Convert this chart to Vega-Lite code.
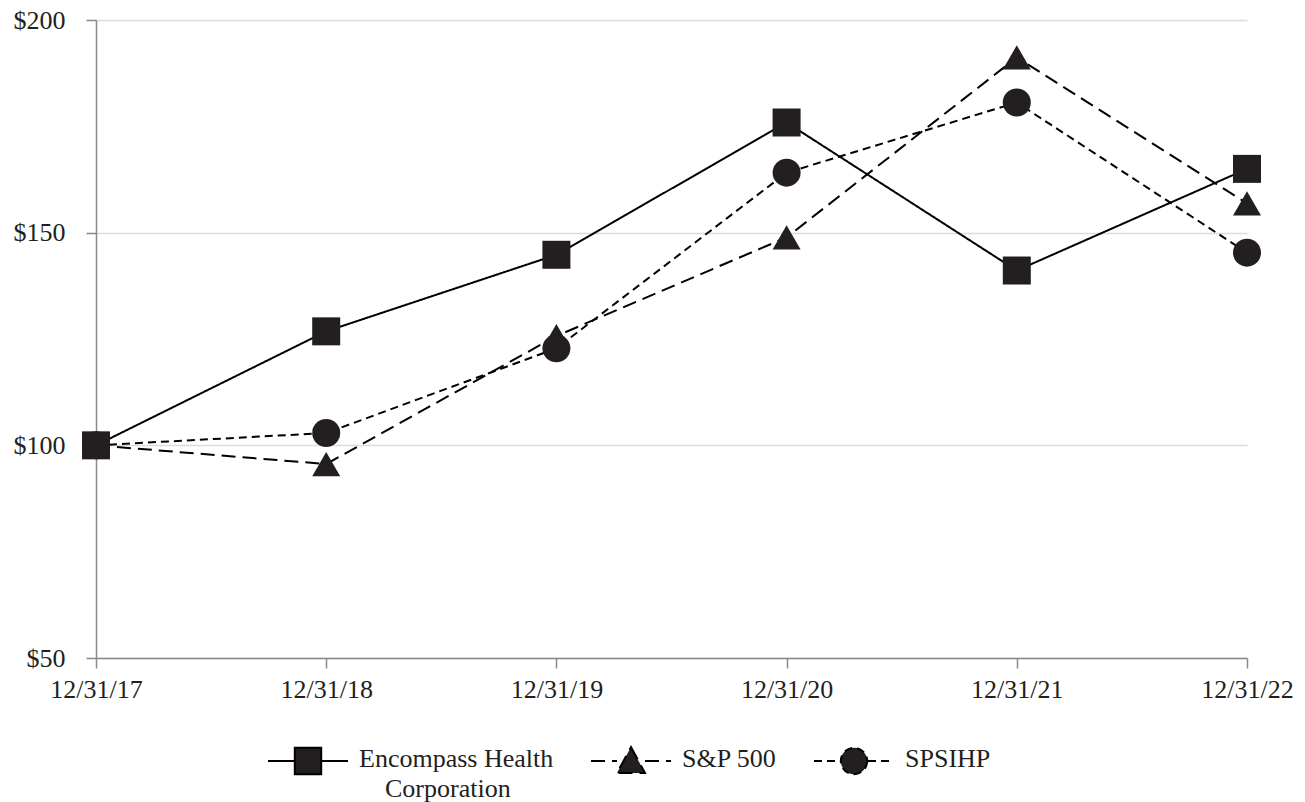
{
  "$schema": "https://vega.github.io/schema/vega-lite/v6.json",
  "width": 1151,
  "height": 638,
  "autosize": "none",
  "padding": {"left": 96, "top": 20, "right": 58, "bottom": 144},
  "background": "white",
  "config": {
    "view": {"stroke": null},
    "font": "Liberation Serif",
    "axis": {
      "domainColor": "#898989",
      "domainWidth": 1.5,
      "tickColor": "#898989",
      "tickWidth": 1.5,
      "tickSize": 10,
      "gridColor": "#dcdcdc",
      "gridWidth": 1.5,
      "labelFont": "Liberation Serif",
      "labelFontSize": 26,
      "labelColor": "#231f20",
      "title": null
    },
    "legend": {
      "orient": "none",
      "legendX": 171,
      "legendY": 700,
      "direction": "horizontal",
      "padding": 0,
      "symbolSize": 6400,
      "symbolStrokeWidth": 2,
      "symbolStrokeColor": "black",
      "symbolFillColor": "#231f20",
      "labelOffset": 10,
      "columnPadding": 33,
      "labelFontSize": 26,
      "labelFont": "Liberation Serif",
      "labelColor": "#231f20",
      "labelLimit": 0
    }
  },
  "data": {
    "values": [
      {"series": "Encompass Health Corporation", "date": "12/31/17", "value": 100},
      {"series": "Encompass Health Corporation", "date": "12/31/18", "value": 126.8},
      {"series": "Encompass Health Corporation", "date": "12/31/19", "value": 144.8},
      {"series": "Encompass Health Corporation", "date": "12/31/20", "value": 175.9},
      {"series": "Encompass Health Corporation", "date": "12/31/21", "value": 141.1},
      {"series": "Encompass Health Corporation", "date": "12/31/22", "value": 165.0},
      {"series": "S&P 500", "date": "12/31/17", "value": 100},
      {"series": "S&P 500", "date": "12/31/18", "value": 95.6},
      {"series": "S&P 500", "date": "12/31/19", "value": 125.7},
      {"series": "S&P 500", "date": "12/31/20", "value": 148.9},
      {"series": "S&P 500", "date": "12/31/21", "value": 191.2},
      {"series": "S&P 500", "date": "12/31/22", "value": 156.9},
      {"series": "SPSIHP", "date": "12/31/17", "value": 100},
      {"series": "SPSIHP", "date": "12/31/18", "value": 102.9},
      {"series": "SPSIHP", "date": "12/31/19", "value": 122.8},
      {"series": "SPSIHP", "date": "12/31/20", "value": 164.1},
      {"series": "SPSIHP", "date": "12/31/21", "value": 180.6},
      {"series": "SPSIHP", "date": "12/31/22", "value": 145.3}
    ]
  },
  "encoding": {
    "x": {
      "field": "date",
      "type": "ordinal",
      "scale": {"type": "point", "padding": 0, "domain": ["12/31/17", "12/31/18", "12/31/19", "12/31/20", "12/31/21", "12/31/22"]},
      "axis": {"labelAngle": 0, "grid": false, "labelPadding": 8}
    },
    "y": {
      "field": "value",
      "type": "quantitative",
      "scale": {"domain": [50, 200], "nice": false, "zero": false},
      "axis": {"values": [50, 100, 150, 200], "labelExpr": "'$' + datum.value", "grid": true, "labelPadding": 21}
    }
  },
  "layer": [
    {
      "mark": {"type": "line", "color": "black", "strokeWidth": 2},
      "encoding": {
        "strokeDash": {
          "field": "series",
          "type": "nominal",
          "title": null,
          "scale": {"domain": ["Encompass Health Corporation", "S&P 500", "SPSIHP"], "range": [[1, 0], [14, 7], [8, 5]]},
          "legend": {
            "labelBaseline": "alphabetic",
            "labelExpr": "datum.label == 'Encompass Health Corporation' ? ['Encompass Health', '\u200b\u2002\u2002Corporation'] : [datum.label, '\u200b']",
            "encode": {
              "symbols": {
                "update": {
                  "shape": {"signal": "datum.value === 'S&P 500' ? 'M-1,0H-0.35M0.35,0H1M0,-0.35L0.35,0.3L-0.35,0.3Z' : datum.value === 'SPSIHP' ? 'M-1,0H-0.35M0.35,0H1M0.33,0A0.33,0.33,0,1,1,-0.33,0A0.33,0.33,0,1,1,0.33,0Z' : 'M-1,0H-0.33M0.33,0H1M-0.33,-0.33H0.33V0.33H-0.33Z'"},
                  "fill": {"value": "#231f20"},
                  "fillOpacity": {"value": 1},
                  "stroke": {"value": "black"},
                  "strokeWidth": {"value": 2},
                  "opacity": {"value": 1}
                }
              },
              "labels": {
                "update": {
                  "dy": {"value": 6},
                  "lineHeight": {"value": 30}
                }
              }
            }
          }
        }
      }
    },
    {
      "mark": {"type": "point", "filled": true, "size": 784, "color": "#231f20", "opacity": 1, "strokeWidth": 0},
      "encoding": {
        "shape": {
          "field": "series",
          "type": "nominal",
          "scale": {"range": ["square", "triangle-up", "circle"]},
          "legend": null
        }
      }
    }
  ]
}
